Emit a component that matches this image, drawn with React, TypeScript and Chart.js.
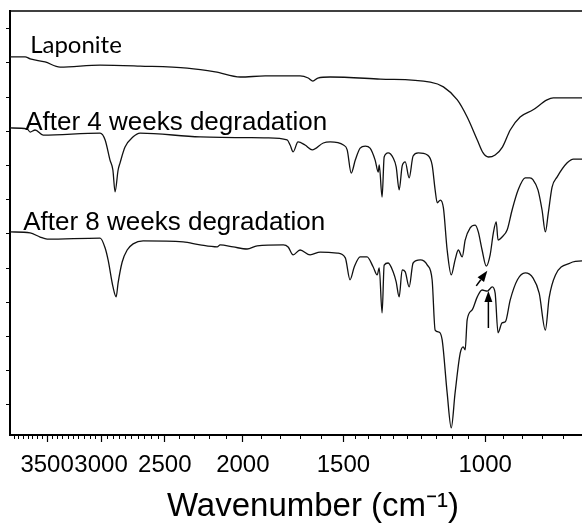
import React, { useEffect, useRef } from "react";
import { Chart, registerables } from "chart.js";

Chart.register(...registerables);

// ---- data (wavenumber in cm-1, transmittance in arbitrary offset units) ----
const lapWn = [3892, 3727, 3674, 3521, 3373, 3008, 2683, 2345, 2164, 2015, 1876, 1698, 1659, 1637, 1614, 1558, 1350, 1170, 1127, 1083, 1053, 1023, 1006, 991, 972, 952, 931, 905, 872, 838, 823, 758, 720];
const lapT = [101.8, 101.8, 101.2, 100.3, 98.8, 99.4, 99.1, 98.5, 97.4, 95.9, 96.2, 96.2, 95.6, 94.7, 95.6, 95.9, 95.3, 94.4, 93.0, 89.2, 84.2, 77.5, 73.7, 72.5, 73.1, 75.4, 80.4, 84.2, 86.3, 89.2, 89.8, 89.8, 89.8];

const wk4Wn = [3892, 3706, 3674, 3622, 3540, 3008, 2965, 2924, 2900, 2882, 2857, 2841, 2801, 2737, 2683, 2260, 1865, 1762, 1747, 1732, 1708, 1674, 1640, 1589, 1558, 1500, 1484, 1467, 1450, 1430, 1409, 1390, 1370, 1358, 1354, 1343, 1335, 1320, 1301, 1290, 1279, 1268, 1257, 1243, 1229, 1211, 1180, 1164, 1154, 1147, 1137, 1127, 1115, 1102, 1090, 1080, 1068, 1059, 1044, 1029, 1020, 1009, 997, 986, 977, 969, 964, 953, 939, 926, 910, 892, 880, 872, 860, 850, 842, 835, 826, 814, 791, 777, 758, 720];
const wk4T = [81.0, 80.7, 79.8, 80.4, 78.9, 79.5, 77.5, 71.6, 68.7, 62.3, 68.7, 70.8, 75.4, 78.4, 79.5, 78.4, 78.1, 77.5, 76.0, 74.0, 76.9, 76.0, 74.6, 76.6, 76.9, 76.0, 74.6, 67.8, 71.6, 75.1, 75.7, 75.1, 71.6, 68.1, 70.2, 60.8, 72.5, 73.7, 72.2, 69.6, 62.9, 69.9, 71.1, 66.4, 72.8, 73.7, 73.1, 70.2, 62.9, 59.1, 59.9, 57.6, 45.3, 38.0, 42.4, 45.3, 43.3, 48.2, 51.8, 52.6, 50.6, 45.3, 40.6, 43.9, 50.3, 53.5, 48.2, 49.1, 51.2, 57.0, 62.9, 66.4, 66.4, 65.8, 62.9, 57.0, 50.6, 56.1, 63.7, 66.7, 70.8, 71.9, 71.9, 71.9];

const wk8Wn = [3892, 3674, 3571, 3500, 3008, 2965, 2940, 2899, 2873, 2857, 2824, 2784, 2737, 2660, 2372, 2260, 2152, 2134, 2056, 1976, 1920, 1781, 1757, 1732, 1698, 1650, 1603, 1527, 1492, 1472, 1454, 1430, 1402, 1378, 1362, 1354, 1343, 1335, 1320, 1301, 1290, 1279, 1268, 1257, 1243, 1229, 1204, 1180, 1164, 1154, 1141, 1131, 1115, 1102, 1090, 1074, 1065, 1059, 1053, 1038, 1023, 1009, 994, 980, 972, 964, 953, 944, 931, 912, 892, 872, 857, 842, 833, 818, 784, 758, 720];
const wk8T = [50.6, 50.3, 49.1, 48.5, 48.8, 45.9, 42.4, 34.5, 31.6, 35.7, 41.8, 45.3, 47.1, 48.0, 47.7, 46.8, 46.2, 46.8, 46.2, 45.6, 46.5, 46.8, 46.2, 43.9, 45.3, 43.9, 44.7, 44.4, 43.0, 36.6, 40.4, 43.3, 43.3, 40.4, 38.0, 40.1, 26.9, 40.9, 41.5, 38.9, 36.0, 31.6, 39.5, 38.9, 34.5, 41.5, 42.4, 40.9, 36.6, 21.9, 21.3, 19.0, 3.5, -6.7, 3.5, 15.2, 17.0, 16.1, 24.9, 27.8, 31.6, 33.6, 33.3, 34.5, 32.7, 21.1, 24.0, 24.3, 30.7, 36.6, 38.6, 37.1, 32.7, 21.9, 31.3, 38.0, 41.5, 42.1, 42.1];

const majorTicks = [1000, 1500, 2000, 2500, 3000, 3500];
const yTicks = [0, 10, 20, 30, 40, 50, 60, 70, 80, 90, 100, 110];
const xMin = 688;
const xMax = 3892;
const yMin = -8.8;
const yMax = 115.2;

const noteTexts = ["Laponite", "After 4 weeks degradation", "After 8 weeks degradation"];
const noteWn = [3674, 3727, 3748];
const noteT = [102.9, 80.4, 51.2];

// arrows
const arrowTailWn = [1026, 991];
const arrowTailT = [34.8, 22.5];
const arrowTipWn = [994, 991];
const arrowTipT = [39.2, 33.3];

const xTitle = "Wavenumber (cm\u207B\u00B9)";

function buildMinorTicks(): number[] {
  const out: number[] = [];
  for (let w = 700; w <= 3850; w += 50) {
    if (majorTicks.includes(w)) continue;
    if (w > 1500 && w < 2500 && w % 100 !== 0) continue;
    out.push(w);
  }
  return out;
}
const minorTicks = buildMinorTicks();

function pts(wn: number[], t: number[]) {
  return wn.map((w, i) => ({ x: w, y: t[i] }));
}

const decorPlugin = {
  id: "decor",
  afterDraw(chart: any) {
    const { ctx, chartArea, scales } = chart;
    const xs = scales.x;
    const ys = scales.y;
    ctx.save();
    // top frame line
    ctx.strokeStyle = "#000";
    ctx.lineWidth = 1.5;
    ctx.beginPath();
    ctx.moveTo(chartArea.left, chartArea.top);
    ctx.lineTo(chartArea.right, chartArea.top);
    ctx.stroke();
    // minor ticks on x axis
    ctx.lineWidth = 1;
    ctx.beginPath();
    minorTicks.forEach((v) => {
      const px = Math.round(xs.getPixelForValue(v)) + 0.5;
      if (px < chartArea.left || px > chartArea.right) return;
      ctx.moveTo(px, chartArea.bottom);
      ctx.lineTo(px, chartArea.bottom + 4);
    });
    ctx.stroke();
    // labels
    ctx.fillStyle = "#000";
    ctx.textBaseline = "alphabetic";
    ctx.textAlign = "left";
    noteTexts.forEach((txt, i) => {
      ctx.font = i === 0 ? "24px Lato, 'Open Sans', sans-serif" : "26px 'Liberation Sans', Arial, sans-serif";
      ctx.fillText(txt, xs.getPixelForValue(noteWn[i]), ys.getPixelForValue(noteT[i]));
    });
    // arrows
    arrowTailWn.forEach((_, i) => {
      const x1 = xs.getPixelForValue(arrowTailWn[i]);
      const y1 = ys.getPixelForValue(arrowTailT[i]);
      const x2 = xs.getPixelForValue(arrowTipWn[i]);
      const y2 = ys.getPixelForValue(arrowTipT[i]);
      const ang = Math.atan2(y2 - y1, x2 - x1);
      const hl = 11;
      const hw = 4;
      const bx = x2 - hl * Math.cos(ang);
      const by = y2 - hl * Math.sin(ang);
      ctx.strokeStyle = "#000";
      ctx.lineWidth = 1.5;
      ctx.beginPath();
      ctx.moveTo(x1, y1);
      ctx.lineTo(bx, by);
      ctx.stroke();
      ctx.beginPath();
      ctx.moveTo(x2, y2);
      ctx.lineTo(bx + hw * Math.sin(ang), by - hw * Math.cos(ang));
      ctx.lineTo(bx - hw * Math.sin(ang), by + hw * Math.cos(ang));
      ctx.closePath();
      ctx.fill();
    });
    ctx.restore();
  },
};

export default function App() {
  const ref = useRef<HTMLCanvasElement | null>(null);
  useEffect(() => {
    if (!ref.current) return;
    const lineStyle = {
      borderColor: "#111",
      borderWidth: 1.3,
      pointRadius: 0,
      fill: false,
      cubicInterpolationMode: "monotone" as const,
    };
    const chart = new Chart(ref.current, {
      type: "line",
      data: {
        datasets: [
          { label: "Laponite", data: pts(lapWn, lapT), ...lineStyle },
          { label: "After 4 weeks degradation", data: pts(wk4Wn, wk4T), ...lineStyle },
          { label: "After 8 weeks degradation", data: pts(wk8Wn, wk8T), ...lineStyle },
        ],
      },
      options: {
        animation: false,
        responsive: false,
        maintainAspectRatio: false,
        layout: { padding: { left: 6, top: 11, right: 4, bottom: 0 } },
        plugins: { legend: { display: false }, tooltip: { enabled: false } },
        scales: {
          x: {
            type: "logarithmic",
            reverse: true,
            min: xMin,
            max: xMax,
            afterBuildTicks: (scale: any) => {
              scale.ticks = majorTicks.map((v) => ({ value: v }));
            },
            afterFit: (scale: any) => {
              scale.height = 90;
            },
            ticks: {
              autoSkip: false,
              maxRotation: 0,
              padding: 9,
              color: "#000",
              font: { family: "'Liberation Sans', Arial, sans-serif", size: 24 },
              callback: (v: any) => String(v),
            },
            grid: {
              drawOnChartArea: false,
              drawTicks: true,
              tickLength: 7,
              tickColor: "#000",
              tickWidth: 1.2,
            },
            border: { display: true, color: "#000", width: 2 },
            title: {
              display: true,
              text: xTitle,
              color: "#000",
              font: { family: "'Liberation Sans', Arial, sans-serif", size: 33 },
              padding: { top: 2, bottom: -2 },
            },
          },
          y: {
            type: "linear",
            min: yMin,
            max: yMax,
            afterBuildTicks: (scale: any) => {
              scale.ticks = yTicks.map((v) => ({ value: v }));
            },
            ticks: { display: false },
            grid: {
              drawOnChartArea: false,
              drawTicks: true,
              tickLength: 4,
              tickColor: "#000",
              tickWidth: 1,
            },
            border: { display: true, color: "#000", width: 2 },
          },
        },
      },
      plugins: [decorPlugin],
    });
    return () => chart.destroy();
  }, []);
  return (
    <div style={{ position: "fixed", left: 0, top: 0, width: 582, height: 525, overflow: "hidden", background: "#fff" }}>
      <canvas ref={ref} width={620} height={525} style={{ width: 620, height: 525, display: "block" }} />
    </div>
  );
}
